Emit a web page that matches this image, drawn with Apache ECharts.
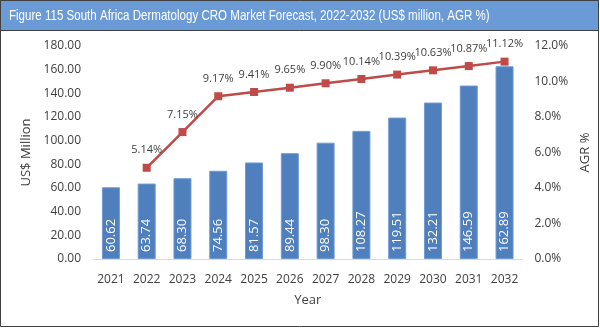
<!DOCTYPE html>
<html><head><meta charset="utf-8">
<script src="https://cdn.jsdelivr.net/npm/echarts@6/dist/echarts.min.js"></script>
<style>html,body{margin:0;padding:0;background:#fff}#c{width:600px;height:328px}</style>
</head><body><div id="c"></div>
<script>
const years = ['2021','2022','2023','2024','2025','2026','2027','2028','2029','2030','2031','2032'];
const marketValues = [60.62,63.74,68.30,74.56,81.57,89.44,98.30,108.27,119.51,132.21,146.59,162.89];
const agrValues = [null,5.14,7.15,9.17,9.41,9.65,9.90,10.14,10.39,10.63,10.87,11.12];
const titleText = 'Figure 115 South Africa Dermatology CRO Market Forecast, 2022-2032 (US$ million, AGR %)';

const chart = echarts.init(document.getElementById('c'));
const tickFont = {fontFamily:'Open Sans', fontSize:12, color:'#404040'};
chart.setOption({
  animation:false,
  graphic:[
    {type:'rect', shape:{x:0.5,y:0.5,width:598,height:326}, style:{fill:'#fff', stroke:'#404040', lineWidth:1}, z:-10},
    {type:'rect', shape:{x:0.5,y:0.5,width:598,height:30}, style:{fill:'#6b9bd6', stroke:'#404040', lineWidth:1}, z:-5},
    {type:'text', x:9, y:8, scaleX:0.77, z:10, style:{text:titleText, fill:'#fff', font:'15px "Liberation Sans"'}}
  ],
  grid:{left:93, right:70, top:46, bottom:69},
  xAxis:{type:'category', data:years, name:'Year', nameLocation:'middle', nameGap:35,
    nameTextStyle:{fontFamily:'Open Sans', fontSize:13, color:'#404040'},
    axisLine:{lineStyle:{color:'#d9d9d9', width:1}}, axisTick:{show:false},
    axisLabel:Object.assign({margin:15}, tickFont)},
  yAxis:[
    {type:'value', min:0, max:180, interval:20, name:'US$ Million', nameLocation:'middle', nameGap:58,
      nameTextStyle:{fontFamily:'Open Sans', fontSize:13, color:'#404040'},
      axisLabel:Object.assign({formatter:v=>v.toFixed(2), margin:12}, tickFont),
      splitLine:{show:false}, axisLine:{show:false}, axisTick:{show:false}},
    {type:'value', min:0, max:12, interval:2, name:'AGR %', nameLocation:'middle', nameGap:48,
      nameTextStyle:{fontFamily:'Open Sans', fontSize:13, color:'#404040'},
      axisLabel:Object.assign({formatter:v=>v.toFixed(1)+'%', margin:12}, tickFont),
      splitLine:{show:false}, axisLine:{show:false}, axisTick:{show:false}}
  ],
  series:[
    {type:'bar', data:marketValues, barWidth:18, yAxisIndex:0,
      itemStyle:{color:'#4f7fbd', borderColor:'#6f9bd3', borderWidth:1},
      label:{show:true, position:'insideBottom', rotate:90, align:'left', verticalAlign:'middle', distance:7,
        formatter:p=>p.value.toFixed(2), color:'#fff', fontFamily:'Open Sans', fontSize:13}},
    {type:'line', data:agrValues, yAxisIndex:1, symbol:'rect', symbolSize:8,
      lineStyle:{color:'#be4b48', width:2.5}, itemStyle:{color:'#be4b48'},
      label:{show:true, position:'top', distance:8, formatter:p=>p.value.toFixed(2)+'%', color:'#404040', fontFamily:'Open Sans', fontSize:11}}
  ]
});
</script></body></html>
